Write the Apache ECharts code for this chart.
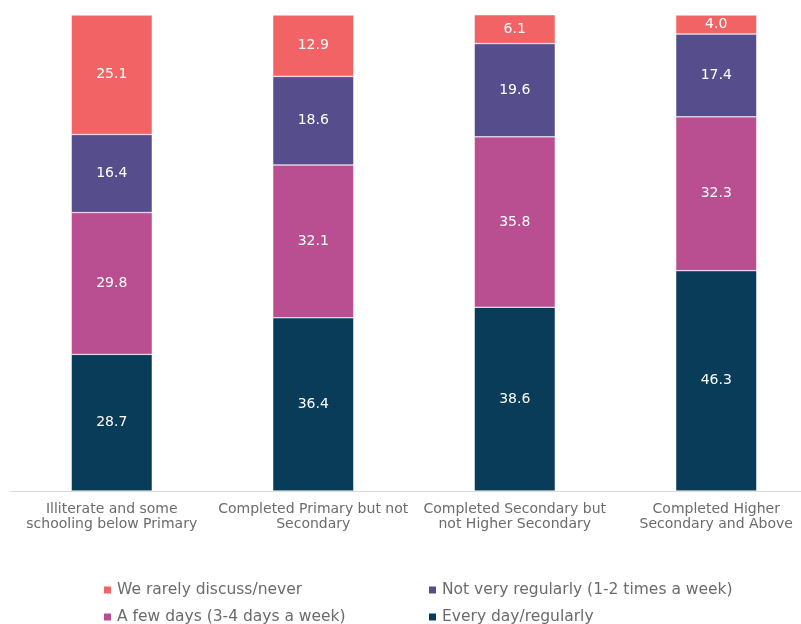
<!DOCTYPE html>
<html>
<head>
<meta charset="utf-8">
<script src="https://cdn.jsdelivr.net/npm/echarts@6/dist/echarts.min.js"></script>
<style>html,body{margin:0;padding:0;background:#fff}#c{width:801px;height:624px}</style>
</head>
<body>
<div id="c"></div>
<script>
const categories = ["Illiterate and some\nschooling below Primary", "Completed Primary but not\nSecondary", "Completed Secondary but\nnot Higher Secondary", "Completed Higher\nSecondary and Above"];
const seriesNames = ["Every day/regularly", "A few days (3-4 days a week)", "Not very regularly (1-2 times a week)", "We rarely discuss/never"];
const everyDay = [28.7, 36.4, 38.6, 46.3];
const fewDays = [29.8, 32.1, 35.8, 32.3];
const notRegular = [16.4, 18.6, 19.6, 17.4];
const rarely = [25.1, 12.9, 6.1, 4.0];
const colors = ["#083C58", "#B94E90", "#564E8C", "#F26365"];

const values = [everyDay, fewDays, notRegular, rarely];
const chart = echarts.init(document.getElementById('c'), null, {renderer: 'canvas'});
const legendText = {color: '#6b6b6b', fontSize: 15.5, fontFamily: 'DejaVu Sans', lineHeight: 16};
const legendPos = [[427, 609], [102, 609], [427, 582], [102, 582]];
chart.setOption({
  animation: false,
  grid: {left: 11, right: -16, top: 15, bottom: 133, outerBoundsMode: 'none', containLabel: false},
  xAxis: {
    type: 'category', data: categories,
    axisLine: {lineStyle: {color: '#d9d9d9', width: 1}},
    axisTick: {show: false},
    axisLabel: {color: '#6b6b6b', fontSize: 14, fontFamily: 'DejaVu Sans', lineHeight: 15, margin: 11, interval: 0}
  },
  yAxis: {type: 'value', min: 0, max: 100, show: false, splitLine: {show: false}},
  legend: seriesNames.map((n, i) => ({
    left: legendPos[i][0], top: legendPos[i][1], padding: 0, itemWidth: 9, itemHeight: 9, icon: 'rect',
    data: [n], textStyle: legendText
  })),
  series: seriesNames.map((n, i) => ({
    name: n, type: 'bar', stack: 'total', data: values[i], barWidth: 81,
    itemStyle: {color: colors[i], borderColor: '#fff', borderWidth: 0.5},
    label: {show: true, position: 'inside', color: '#fff', fontSize: 14, fontFamily: 'DejaVu Sans',
      formatter: p => p.value.toFixed(1)}
  }))
});
</script>
</body>
</html>
